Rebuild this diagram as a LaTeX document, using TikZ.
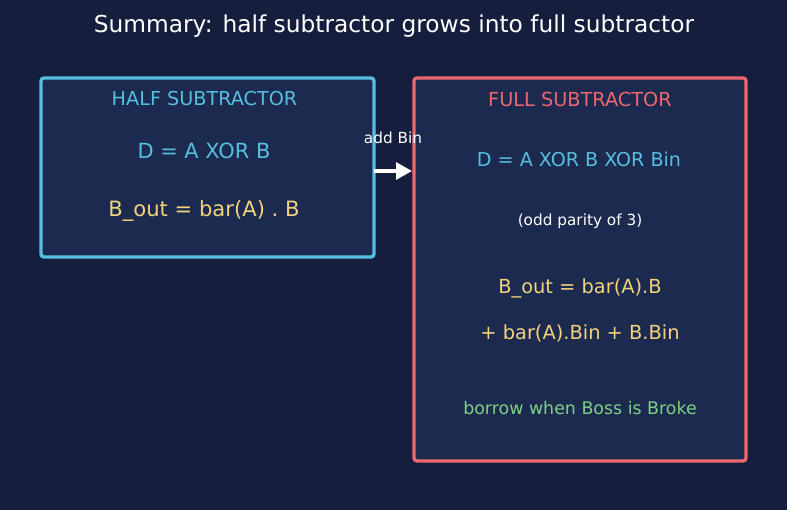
\documentclass[tikz,border=0pt]{standalone}
\usepackage{fontspec}
\setmainfont{DejaVu Sans}
\usetikzlibrary{arrows.meta}
\definecolor{bgc}{HTML}{151F3D}
\definecolor{boxfill}{HTML}{1C2A4F}
\definecolor{cyanc}{HTML}{56BFE0}
\definecolor{redc}{HTML}{EE666E}
\definecolor{yellc}{HTML}{F2D27A}
\definecolor{greenc}{HTML}{7ECF86}
\tikzset{
  panel/.style={draw=#1, line width=3.4pt, rounded corners=3pt, fill=boxfill},
  txt/.style={inner sep=0pt, anchor=center, text=#1},
  fs/.style={font=\fontsize{#1}{#1}\selectfont},
}
\begin{document}
\begin{tikzpicture}[x=1pt,y=-1pt]
\fill[bgc] (0,0) rectangle (787,510);
\useasboundingbox (0,0) rectangle (787,510);
\node[txt=white, fs=23.3] (title) at (394,26) {Summary: half subtractor grows into full subtractor};
\draw[panel=cyanc] (41,78) rectangle (374,257);
\coordinate (halfE) at (374,171);
\draw[panel=redc] (414,78) rectangle (746,461);
\coordinate (fullW) at (412,171);
\node[txt=cyanc, fs=19.2] (htitle) at (204.5,99) {HALF SUBTRACTOR};
\node[txt=cyanc, fs=20.9] (hd) at (204,151) {D = A XOR B};
\node[txt=yellc, fs=21.1] (hb) at (204,211) {B\_out = bar(A) . B};
\node[txt=redc, fs=19.3] (ftitle) at (580,99) {FULL SUBTRACTOR};
\node[txt=cyanc, fs=19.1] (fd) at (579,159) {D = A XOR B XOR Bin};
\node[txt=white, fs=15.3] (fpar) at (580,221) {(odd parity of 3)};
\node[txt=yellc, fs=19.4] (fb1) at (580,288) {B\_out = bar(A).B};
\node[txt=yellc, fs=19.4] (fb2) at (580,333) {+ bar(A).Bin + B.Bin};
\node[txt=greenc, fs=17.4] (fg) at (580,408) {borrow when Boss is Broke};
\node[txt=white, fs=15.3] (addbin) at (393,138) {add Bin};
\draw[white, line width=3.2pt, -{Triangle[length=16pt,width=17pt]}] (halfE) -- (fullW);
\end{tikzpicture}
\end{document}
